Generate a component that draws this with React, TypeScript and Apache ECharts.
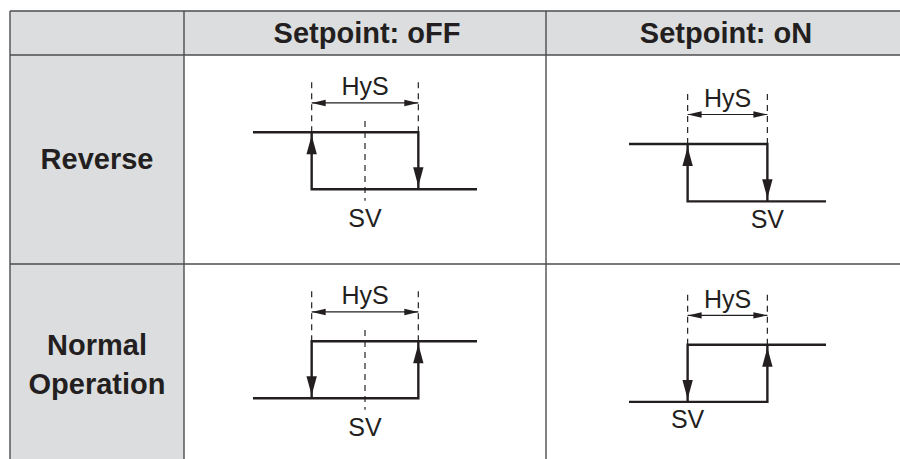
import React, { useEffect, useRef } from "react";
import * as echarts from "echarts";

// ---- content ----
const columnHeaders = ["Setpoint: oFF", "Setpoint: oN"];
const rowHeaders = ["Reverse", "Normal\nOperation"];
const hysLabel = "HyS";
const svLabel = "SV";

// cells: Reverse/oFF, Reverse/oN, Normal/oFF, Normal/oN
const setValue = [0, 0, 0, 0];
const lowerSwitch = [-1, -2, -1, 0];
const upperSwitch = [1, 0, 1, 2];
const pvMin = [-2.1, -3.47, -2.1, -1.47];
const pvMax = [2.1, 1.47, 2.1, 3.47];
const isReverse = [true, true, false, false];
const showSvMarker = [true, false, true, false];
const outputOn = 1;
const outputOff = 0;

// ---- layout / style ----
const INK = "#231f20";
const BORDER = "#4d4d4f";
const FILL = "#dcdddf";
const FONT = '"Liberation Sans", Arial, Helvetica, sans-serif';

const gridBoxes = [
  { left: 253, top: 75.3, width: 224, height: 171 },
  { left: 629, top: 86.7, width: 197, height: 172 },
  { left: 253, top: 284.3, width: 224, height: 171 },
  { left: 629, top: 287.7, width: 197, height: 172 },
];

function arrowHead(tip: number[], dir: number[], len: number, half: number) {
  const bx = tip[0] - dir[0] * len;
  const by = tip[1] - dir[1] * len;
  const px = -dir[1];
  const py = dir[0];
  return [
    [tip[0], tip[1]],
    [bx + px * half, by + py * half],
    [bx - px * half, by - py * half],
  ];
}

function makeRender(i: number) {
  return (_params: any, api: any) => {
    const p = (x: number, y: number) => api.coord([x, y]);
    const lo = lowerSwitch[i];
    const hi = upperSwitch[i];
    const sv = setValue[i];
    const children: any[] = [];
    const dashed = { stroke: "#2b2b2b", lineWidth: 1.25, lineDash: [6, 5], fill: null };
    const solid = { stroke: INK, lineWidth: 2.4, fill: null, lineJoin: "miter", lineCap: "butt" };

    // threshold guides
    [lo, hi].forEach((x) => {
      const a = p(x, outputOn);
      const b = p(x, outputOn + 0.95);
      children.push({ type: "line", shape: { x1: a[0], y1: a[1], x2: b[0], y2: b[1] }, style: dashed });
    });

    // HyS dimension arrow
    const da = p(lo, outputOn + 0.515);
    const db = p(hi, outputOn + 0.515);
    children.push({ type: "line", shape: { x1: da[0], y1: da[1], x2: db[0], y2: db[1] }, style: { stroke: INK, lineWidth: 1.2 } });
    children.push({ type: "polygon", shape: { points: arrowHead(da, [-1, 0], 14, 3.2) }, style: { fill: INK } });
    children.push({ type: "polygon", shape: { points: arrowHead(db, [1, 0], 14, 3.2) }, style: { fill: INK } });
    const ht = p((lo + hi) / 2, outputOn + 0.81);
    children.push({
      type: "text",
      style: { text: hysLabel, x: ht[0], y: ht[1], fill: INK, font: `25px ${FONT}`, align: "center", verticalAlign: "middle" },
    });

    // SV marker
    if (showSvMarker[i]) {
      const a = p(sv, outputOn + 0.2);
      const b = p(sv, outputOff - 0.2);
      children.push({ type: "line", shape: { x1: a[0], y1: a[1], x2: b[0], y2: b[1] }, style: dashed });
    }
    const st = p(sv, outputOff - (showSvMarker[i] ? 0.5 : 0.3));
    children.push({
      type: "text",
      style: { text: svLabel, x: st[0], y: st[1], fill: INK, font: `25px ${FONT}`, align: "center", verticalAlign: "middle" },
    });

    // step paths
    let pathA: number[][];
    let pathB: number[][];
    let tipA: number[];
    let dirA: number[];
    let tipB: number[];
    let dirB: number[];
    if (isReverse[i]) {
      pathA = [p(pvMin[i], outputOn), p(hi, outputOn), p(hi, outputOff)];
      const t = p(hi, outputOff);
      tipA = [t[0], t[1] - 3];
      dirA = [0, 1];
      pathB = [p(pvMax[i], outputOff), p(lo, outputOff), p(lo, outputOn)];
      const u = p(lo, outputOn);
      tipB = [u[0], u[1] + 3];
      dirB = [0, -1];
    } else {
      pathA = [p(pvMin[i], outputOff), p(hi, outputOff), p(hi, outputOn)];
      const t = p(hi, outputOn);
      tipA = [t[0], t[1] + 3];
      dirA = [0, -1];
      pathB = [p(pvMax[i], outputOn), p(lo, outputOn), p(lo, outputOff)];
      const u = p(lo, outputOff);
      tipB = [u[0], u[1] - 3];
      dirB = [0, 1];
    }
    children.push({ type: "polyline", shape: { points: pathA }, style: solid });
    children.push({ type: "polyline", shape: { points: pathB }, style: solid });
    children.push({ type: "polygon", shape: { points: arrowHead(tipA, dirA, 19, 5.2) }, style: { fill: INK } });
    children.push({ type: "polygon", shape: { points: arrowHead(tipB, dirB, 19, 5.2) }, style: { fill: INK } });

    return { type: "group", children };
  };
}

function tableGraphic() {
  const els: any[] = [];
  els.push({ type: "rect", shape: { x: 10, y: 11, width: 890, height: 44 }, style: { fill: FILL }, z: 0 });
  els.push({ type: "rect", shape: { x: 10, y: 55, width: 174, height: 404 }, style: { fill: FILL }, z: 0 });
  const ln = (x1: number, y1: number, x2: number, y2: number) =>
    els.push({ type: "line", shape: { x1, y1, x2, y2 }, style: { stroke: BORDER, lineWidth: 1.4 }, z: 1 });
  ln(10, 11, 900, 11);
  ln(10, 55, 900, 55);
  ln(10, 264, 900, 264);
  ln(10, 11, 10, 459);
  ln(184, 11, 184, 459);
  ln(546, 11, 546, 459);
  const headerX = [367, 726];
  columnHeaders.forEach((t, k) =>
    els.push({
      type: "text",
      x: headerX[k],
      y: 33,
      z: 2,
      style: {
        text: t,
        fill: INK,
        font: `bold 29px ${FONT}`,
        align: "center",
        verticalAlign: "middle",
        textAlign: "center",
        textVerticalAlign: "middle",
      },
    })
  );
  const rowY = [159.3, 364.7];
  rowHeaders.forEach((t, k) =>
    els.push({
      type: "text",
      x: 97,
      y: rowY[k],
      z: 2,
      style: {
        text: t,
        fill: INK,
        font: `bold 29px ${FONT}`,
        lineHeight: 39.5,
        align: "center",
        verticalAlign: "middle",
        textAlign: "center",
        textVerticalAlign: "middle",
      },
    })
  );
  return els;
}

export default function App() {
  const ref = useRef<HTMLDivElement>(null);
  useEffect(() => {
    const chart = echarts.init(ref.current!, undefined, { renderer: "svg" });
    const cells = [0, 1, 2, 3];
    chart.setOption({
      animation: false,
      backgroundColor: "#ffffff",
      grid: gridBoxes.map((g) => ({ ...g })),
      xAxis: cells.map((i) => ({ type: "value", gridIndex: i, min: pvMin[i], max: pvMax[i], show: false })),
      yAxis: cells.map((i) => ({ type: "value", gridIndex: i, min: outputOff - 1, max: outputOn + 1, show: false })),
      graphic: { elements: tableGraphic() },
      series: cells.map((i) => ({
        type: "custom",
        xAxisIndex: i,
        yAxisIndex: i,
        clip: false,
        z: 5,
        data: [[setValue[i], outputOff]],
        renderItem: makeRender(i),
      })),
    });
    return () => chart.dispose();
  }, []);
  return (
    <div
      ref={ref}
      style={{ position: "fixed", left: 0, top: 0, width: 900, height: 459, background: "#fff" }}
    />
  );
}
